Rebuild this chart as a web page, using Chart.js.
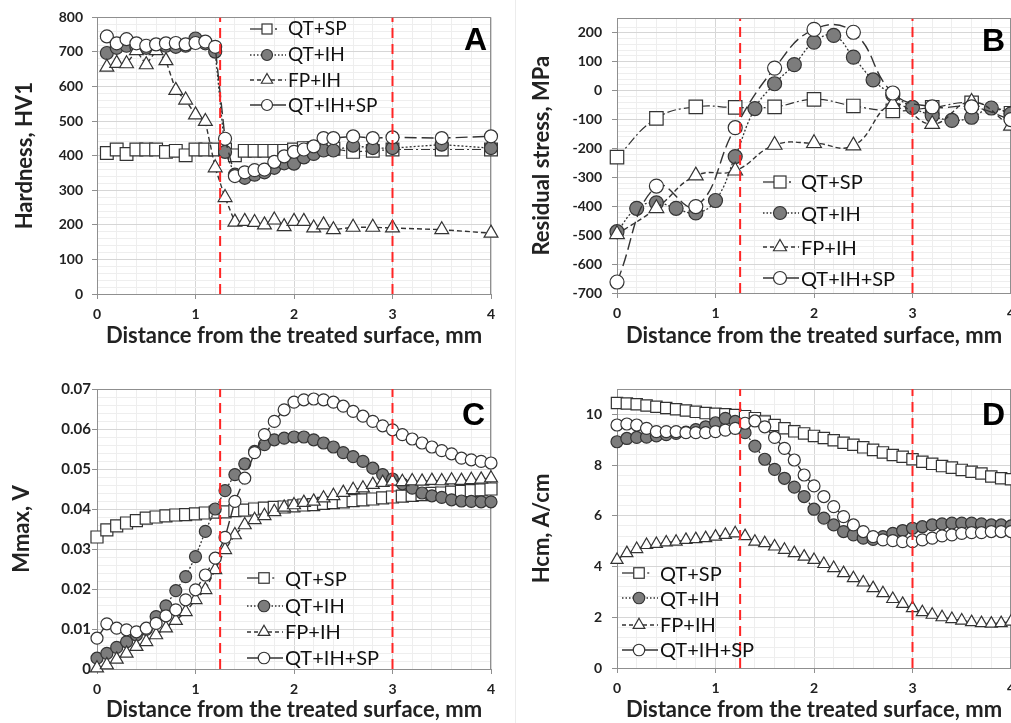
<!DOCTYPE html>
<html><head><meta charset="utf-8">
<script src="https://cdn.jsdelivr.net/npm/chart.js@4.4.1/dist/chart.umd.min.js"></script>
<style>
html,body{margin:0;padding:0;background:#fff;overflow:hidden;width:1011px;height:723px}
#root{position:relative;width:1011px;height:723px;overflow:hidden;background:#fff}
canvas{position:absolute}
.lgt{position:absolute;font-family:Lato,'Liberation Sans',sans-serif;color:#111;white-space:nowrap}
.lgs{position:absolute}
.letter{position:absolute;font-family:'Liberation Sans',Arial,sans-serif;font-weight:bold;font-size:32px;line-height:32px;width:60px;text-align:right;color:#000}
.sep{position:absolute;left:515px;top:0;width:1px;height:723px;background:#ececec}
</style></head>
<body><div id="root">
<div class="sep"></div>
<canvas id="cA" width="505" height="352" style="left:0px;top:0px"></canvas>
<canvas id="cB" width="520" height="352" style="left:505px;top:0px"></canvas>
<canvas id="cC" width="505" height="363" style="left:0px;top:360px"></canvas>
<canvas id="cD" width="520" height="363" style="left:505px;top:360px"></canvas>
</div>
<script>
// ---------------- DATA ----------------
const LABELS = ['QT+SP', 'QT+IH', 'FP+IH', 'QT+IH+SP'];
const VLINES = [1.25, 3];

// Panel A: Hardness, HV1
const X_A = [0.1,0.2,0.3,0.4,0.5,0.6,0.7,0.8,0.9,1.0,1.1,1.2,1.3,1.4,1.5,1.6,1.7,1.8,1.9,2.0,2.1,2.2,2.3,2.4,2.6,2.8,3.0,3.5,4.0];
const A_QT_SP    = [408,418,405,418,418,418,411,414,401,418,418,418,418,401,414,414,414,414,414,418,422,422,425,420,411,414,418,418,418];
const A_QT_IH    = [697,712,718,715,712,715,718,715,718,739,725,701,411,345,336,345,352,365,378,377,395,405,415,415,429,422,422,432,422];
const A_FP_IH    = [656,667,666,704,663,704,675,589,561,518,499,365,279,208,210,207,200,214,195,210,210,191,200,186,193,193,191,186,176];
const A_QT_IH_SP = [745,725,737,725,718,722,725,726,722,726,730,715,449,341,352,358,360,382,398,411,418,427,451,451,456,451,453,451,456];

// Panel B: Residual stress, MPa
const X_B_FINE = [0,0.2,0.4,0.6,0.8,1.0,1.2,1.4,1.6,1.8,2.0,2.2,2.4,2.6,2.8,3.0,3.2,3.4,3.6,3.8,4.0];
const X_B      = [0,0.4,0.8,1.2,1.6,2.0,2.4,2.8,3.2,3.6,4.0];
const B_QT_SP    = [-230,-96,-56,-58,-56,-30,-53,-70,-58,-42,-78];
const B_QT_IH    = [-488,-407,-388,-407,-423,-380,-228,-62,24,90,168,191,116,37,-15,-58,-86,-103,-92,-60,-80];
const B_FP_IH    = [-497,-407,-294,-277,-188,-182,-190,-47,-116,-39,-122];
const B_QT_IH_SP = [-662,-330,-401,-128,78,212,202,-8,-56,-56,-100];

// Panels C and D share the same distances
const X_CD = [0,0.1,0.2,0.3,0.4,0.5,0.6,0.7,0.8,0.9,1.0,1.1,1.2,1.3,1.4,1.5,1.6,1.7,1.8,1.9,2.0,2.1,2.2,2.3,2.4,2.5,2.6,2.7,2.8,2.9,3.0,3.1,3.2,3.3,3.4,3.5,3.6,3.7,3.8,3.9,4.0];

// Panel C: Mmax, V
const C_QT_SP    = [0.0330,0.0348,0.0358,0.0365,0.0371,0.0377,0.0380,0.0383,0.0385,0.0386,0.0388,0.0390,0.0392,0.0393,0.0396,0.0397,0.0400,0.0402,0.0404,0.0405,0.0408,0.0410,0.0411,0.0414,0.0416,0.0418,0.0421,0.0423,0.0425,0.0428,0.0430,0.0432,0.0434,0.0436,0.0439,0.0440,0.0442,0.0444,0.0446,0.0448,0.0450];
const C_QT_IH    = [0.0027,0.0039,0.0054,0.0068,0.0085,0.0099,0.0131,0.0158,0.0196,0.0231,0.0281,0.0344,0.0400,0.0446,0.0486,0.0513,0.0544,0.0561,0.0573,0.0577,0.0580,0.0580,0.0573,0.0565,0.0555,0.0541,0.0531,0.0519,0.0502,0.0486,0.0475,0.0463,0.0452,0.0440,0.0433,0.0429,0.0423,0.0420,0.0419,0.0418,0.0418];
const C_FP_IH    = [0.0002,0.0010,0.0024,0.0039,0.0056,0.0068,0.0085,0.0102,0.0121,0.0143,0.0173,0.0198,0.0248,0.0298,0.0335,0.0360,0.0373,0.0383,0.0393,0.0404,0.0410,0.0416,0.0419,0.0427,0.0433,0.0441,0.0448,0.0452,0.0461,0.0466,0.0469,0.0468,0.0470,0.0469,0.0471,0.0470,0.0472,0.0471,0.0473,0.0474,0.0477];
const C_QT_IH_SP = [0.0077,0.0113,0.0102,0.0098,0.0093,0.0102,0.0114,0.0133,0.0148,0.0173,0.0198,0.0235,0.0277,0.0329,0.0419,0.0477,0.0541,0.0586,0.0619,0.0648,0.0667,0.0673,0.0675,0.0673,0.0667,0.0657,0.0644,0.0632,0.0619,0.0608,0.0598,0.0586,0.0575,0.0565,0.0555,0.0546,0.0538,0.0527,0.0523,0.0519,0.0515];

// Panel D: Hcm, A/cm
const D_QT_SP    = [10.45,10.43,10.40,10.35,10.30,10.25,10.20,10.15,10.10,10.05,10.02,10.00,9.97,9.93,9.85,9.72,9.58,9.45,9.33,9.25,9.15,9.07,8.98,8.88,8.80,8.70,8.60,8.50,8.40,8.33,8.23,8.13,8.05,7.96,7.90,7.81,7.74,7.67,7.55,7.48,7.44];
const D_QT_IH    = [8.92,9.05,9.09,9.10,9.15,9.20,9.25,9.30,9.40,9.51,9.67,9.84,9.72,9.28,8.75,8.23,7.83,7.48,7.13,6.76,6.26,5.91,5.64,5.38,5.25,5.12,5.07,5.18,5.31,5.42,5.51,5.57,5.64,5.68,5.71,5.71,5.71,5.68,5.64,5.64,5.60];
const D_FP_IH    = [4.26,4.53,4.69,4.85,4.89,4.95,4.98,5.05,5.08,5.12,5.18,5.25,5.31,5.20,4.98,4.92,4.79,4.66,4.53,4.39,4.26,4.10,3.94,3.74,3.54,3.37,3.15,2.95,2.72,2.53,2.36,2.20,2.10,2.00,1.93,1.87,1.81,1.77,1.75,1.77,1.83];
const D_QT_IH_SP = [9.58,9.62,9.58,9.45,9.32,9.32,9.32,9.28,9.28,9.28,9.32,9.38,9.45,9.65,9.74,9.51,9.09,8.66,8.20,7.61,7.18,6.76,6.36,5.97,5.64,5.38,5.18,5.05,5.02,4.98,4.98,5.05,5.12,5.21,5.25,5.31,5.34,5.34,5.38,5.38,5.38];

// ---------------- STYLE ----------------
const FONT = "Lato, 'Liberation Sans', sans-serif";
const TXT = '#222';
const AX = '#8f8f8f';
const MAJ = '#d6d6d6';
const MIN = '#eeeeee';
const LINE = '#333';
const GRAYFILL = '#7c7c7c';
const TITLE_SIZE = 22;
Chart.defaults.font.family = FONT;

const STY = {
  SP:   {ps: 'rect',     bg: '#fff',   dash: [9, 3, 2, 3], bw: 1.2},
  IH:   {ps: 'circle',   bg: GRAYFILL, dash: [2, 2],       bw: 1.3},
  FP:   {ps: 'triangle', bg: '#fff',   dash: [5, 3],       bw: 1.4},
  IHSP: {ps: 'circle',   bg: '#fff',   dash: [12, 5],      bw: 1.4}
};
const ORDER = {SP: 4, IH: 3, FP: 2, IHSP: 1};

function pts(xs, ys) { return xs.map((x, i) => ({x: x, y: ys[i]})); }

function series(label, key, xs, ys, r, tension) {
  const s = STY[key];
  return {
    label: label, data: pts(xs, ys), order: ORDER[key], clip: false,
    borderColor: LINE, borderWidth: s.bw, borderDash: s.dash, tension: tension || 0,
    pointStyle: s.ps, pointRadius: r[key], pointBackgroundColor: s.bg,
    pointBorderColor: '#333', pointBorderWidth: 1.2, fill: false
  };
}

function vlines(ymin, ymax) {
  return VLINES.map(v => ({
    label: 'v' + v, data: [{x: v, y: ymin}, {x: v, y: ymax}], order: 0,
    borderColor: '#ff2525', borderWidth: 2, borderDash: [10, 6],
    pointRadius: 0, fill: false, tension: 0
  }));
}

const framePlugin = {
  id: 'frame',
  beforeDatasetsDraw(chart) {
    const a = chart.chartArea, c = chart.ctx;
    c.save();
    c.strokeStyle = AX; c.lineWidth = 1;
    c.beginPath();
    c.moveTo(Math.round(a.left), Math.round(a.top) + 0.5);
    c.lineTo(Math.round(a.right), Math.round(a.top) + 0.5);
    c.moveTo(Math.round(a.right) - 0.5, Math.round(a.top));
    c.lineTo(Math.round(a.right) - 0.5, Math.round(a.bottom));
    c.stroke();
    c.restore();
  }
};

function near(v, step) { const q = v / step; return Math.abs(q - Math.round(q)) < 1e-4; }

function makePanel(id, o) {
  new Chart(document.getElementById(id), {
    type: 'line',
    data: {datasets: o.datasets},
    options: {
      responsive: false, animation: false, devicePixelRatio: 1,
      layout: {padding: o.pad},
      plugins: {legend: {display: false}, tooltip: {enabled: false}},
      scales: {
        x: {
          type: 'linear', min: 0, max: 4,
          afterFit: s => { s.height = o.xH; },
          ticks: {
            stepSize: 0.2, autoSkip: false, maxRotation: 0, minRotation: 0, padding: 7,
            color: TXT, font: {family: FONT, weight: 'bold', size: 14},
            callback: v => near(v, 1) ? String(Math.round(v)) : ''
          },
          grid: {
            color: c => (c.tick && near(c.tick.value, 1)) ? MAJ : MIN,
            tickColor: c => (c.tick && near(c.tick.value, 1)) ? AX : 'rgba(0,0,0,0)',
            tickLength: 5, lineWidth: 1
          },
          border: {color: AX, width: 1},
          title: {
            display: true, text: 'Distance from the treated surface, mm', color: TXT,
            font: {family: FONT, weight: 'bold', size: TITLE_SIZE, lineHeight: 1.2},
            padding: {top: 0, bottom: o.xtPad}
          }
        },
        y: {
          type: 'linear', min: o.ymin, max: o.ymax,
          afterFit: s => { s.width = o.yW; },
          ticks: {
            stepSize: o.ystep, autoSkip: false, padding: o.ytickPad,
            color: TXT, font: {family: FONT, weight: 'bold', size: o.ytickSize},
            callback: v => (near(v, o.ymajor) && v < o.ymax - 1e-9 + (o.labelTop ? 1 : 0)) ? o.fmt(v) : ''
          },
          grid: {
            color: c => (c.tick && near(c.tick.value, o.ymajor)) ? MAJ : MIN,
            tickColor: c => (c.tick && near(c.tick.value, o.ymajor)) ? AX : 'rgba(0,0,0,0)',
            tickLength: 5, lineWidth: 1
          },
          border: {color: AX, width: 1},
          title: {
            display: true, text: o.ytitle, color: TXT,
            font: {family: FONT, weight: 'bold', size: TITLE_SIZE, lineHeight: 1.2},
            padding: {top: o.ytPad, bottom: 0}
          }
        }
      }
    },
    plugins: [framePlugin]
  });
}

// ---------- Panel A ----------
const rA = {SP: 9, IH: 6.5, FP: 8, IHSP: 6.5};
makePanel('cA', {
  pad: {left: 0, top: 15, right: 14, bottom: 0}, yW: 97, xH: 58,
  ymin: 0, ymax: 800, ystep: 20, ymajor: 100, labelTop: true, fmt: v => String(Math.round(v)),
  ytickPad: 9, ytickSize: 14, ytitle: 'Hardness, HV1', ytPad: 11.8, xtPad: 2.8,
  datasets: [
    ...vlines(0, 800),
    series(LABELS[0], 'SP', X_A, A_QT_SP, rA),
    series(LABELS[1], 'IH', X_A, A_QT_IH, rA),
    series(LABELS[2], 'FP', X_A, A_FP_IH, rA),
    series(LABELS[3], 'IHSP', X_A, A_QT_IH_SP, rA)
  ]
});

// ---------- Panel B ----------
const rB = {SP: 9.5, IH: 7, FP: 8.5, IHSP: 7};
makePanel('cB', {
  pad: {left: 0, top: 14, right: 14, bottom: 0}, yW: 112, xH: 59,
  ymin: -700, ymax: 250, ystep: 20, ymajor: 100, labelTop: false, fmt: v => String(Math.round(v)),
  ytickPad: 10, ytickSize: 14, ytitle: 'Residual stress, MPa', ytPad: 23.8, xtPad: 2.8,
  datasets: [
    ...vlines(-700, 250),
    series(LABELS[0], 'SP', X_B, B_QT_SP, rB, 0.45),
    series(LABELS[1], 'IH', X_B_FINE, B_QT_IH, rB, 0.45),
    series(LABELS[2], 'FP', X_B, B_FP_IH, rB, 0.45),
    series(LABELS[3], 'IHSP', X_B, B_QT_IH_SP, rB, 0.45)
  ]
});

// ---------- Panel C ----------
const rC = {SP: 8.5, IH: 6, FP: 7.5, IHSP: 6};
makePanel('cC', {
  pad: {left: 0, top: 29, right: 14, bottom: 0}, yW: 97, xH: 54,
  ymin: 0, ymax: 0.07, ystep: 0.002, ymajor: 0.01, labelTop: true, fmt: v => (Math.abs(v) < 1e-9 ? '0' : v.toFixed(2)),
  ytickPad: 1, ytickSize: 15, ytitle: 'Mmax, V', ytPad: 8.8, xtPad: 0,
  datasets: [
    ...vlines(0, 0.07),
    series(LABELS[0], 'SP', X_CD, C_QT_SP, rC),
    series(LABELS[1], 'IH', X_CD, C_QT_IH, rC),
    series(LABELS[2], 'FP', X_CD, C_FP_IH, rC),
    series(LABELS[3], 'IHSP', X_CD, C_QT_IH_SP, rC)
  ]
});

// ---------- Panel D ----------
const rD = {SP: 8, IH: 6, FP: 7, IHSP: 6};
makePanel('cD', {
  pad: {left: 0, top: 29, right: 14, bottom: 0}, yW: 112, xH: 55,
  ymin: 0, ymax: 11, ystep: 0.4, ymajor: 2, labelTop: false, fmt: v => String(Math.round(v)),
  ytickPad: 10, ytickSize: 14, ytitle: 'Hcm, A/cm', ytPad: 23.3, xtPad: 0,
  datasets: [
    ...vlines(0, 11),
    series(LABELS[0], 'SP', X_CD, D_QT_SP, rD),
    series(LABELS[1], 'IH', X_CD, D_QT_IH, rD),
    series(LABELS[2], 'FP', X_CD, D_FP_IH, rD),
    series(LABELS[3], 'IHSP', X_CD, D_QT_IH_SP, rD)
  ]
});

// ---------------- LEGENDS & LETTERS (HTML) ----------------
const root = document.getElementById('root');
const KEYS = ['SP', 'IH', 'FP', 'IHSP'];

function sampleSVG(key, m) {
  const cx = 17, cy = 10, h = m / 2;
  let s = '<svg width="36" height="20" xmlns="http://www.w3.org/2000/svg">';
  if (key === 'SP') {
    s += `<line x1="0" y1="${cy}" x2="${cx - h}" y2="${cy}" stroke="#333" stroke-width="1.3"/>`;
    s += `<rect x="${cx - h}" y="${cy - h}" width="${m}" height="${m}" fill="#fff" stroke="#333" stroke-width="1.2"/>`;
    s += `<line x1="${cx + h + 3}" y1="${cy}" x2="${cx + h + 5}" y2="${cy}" stroke="#333" stroke-width="1.3"/>`;
  } else if (key === 'IH') {
    s += `<line x1="0" y1="${cy}" x2="36" y2="${cy}" stroke="#333" stroke-width="1.3" stroke-dasharray="1.5,2"/>`;
    s += `<circle cx="${cx}" cy="${cy}" r="${h + 0.5}" fill="${GRAYFILL}" stroke="#333" stroke-width="1.2"/>`;
  } else if (key === 'FP') {
    s += `<line x1="0" y1="${cy}" x2="36" y2="${cy}" stroke="#333" stroke-width="1.3" stroke-dasharray="4,3"/>`;
    const r = h + 1.5;
    const p = [[cx, cy - r], [cx + r * 0.866, cy + r * 0.5], [cx - r * 0.866, cy + r * 0.5]];
    s += `<polygon points="${p.map(q => q.join(',')).join(' ')}" fill="#fff" stroke="#333" stroke-width="1.2"/>`;
  } else {
    s += `<line x1="0" y1="${cy}" x2="36" y2="${cy}" stroke="#333" stroke-width="1.4"/>`;
    s += `<circle cx="${cx}" cy="${cy}" r="${h + 0.5}" fill="#fff" stroke="#333" stroke-width="1.2"/>`;
  }
  return s + '</svg>';
}

function legend(x0, rows, fs, m) {
  KEYS.forEach((k, i) => {
    const y = rows[i];
    const sv = document.createElement('div');
    sv.className = 'lgs';
    sv.style.left = x0 + 'px'; sv.style.top = (y - 10) + 'px';
    sv.innerHTML = sampleSVG(k, m);
    root.appendChild(sv);
    const t = document.createElement('div');
    t.className = 'lgt';
    const L = 26;
    t.style.fontSize = fs + 'px'; t.style.lineHeight = L + 'px';
    t.style.left = (x0 + 38) + 'px';
    t.style.top = (y - L / 2 - 0.029 * fs) + 'px';
    t.textContent = LABELS[i];
    root.appendChild(t);
  });
}
legend(250, [28.7, 54.7, 80.3, 105.3], 19, 10);
legend(763, [181.7, 213.3, 247.3, 278.3], 20, 12);
legend(247, [578.3, 606, 631.7, 657.7], 20, 10.5);
legend(622, [573.3, 598.3, 625, 650], 20, 10.5);

function letter(ch, right, capTop) {
  const d = document.createElement('div');
  d.className = 'letter';
  d.style.left = (right - 60) + 'px';
  d.style.top = (capTop - 4.2) + 'px';
  d.textContent = ch;
  root.appendChild(d);
}
letter('A', 487, 27);
letter('B', 1005, 28);
letter('C', 485, 402);
letter('D', 1005, 402);
</script>
</body></html>
